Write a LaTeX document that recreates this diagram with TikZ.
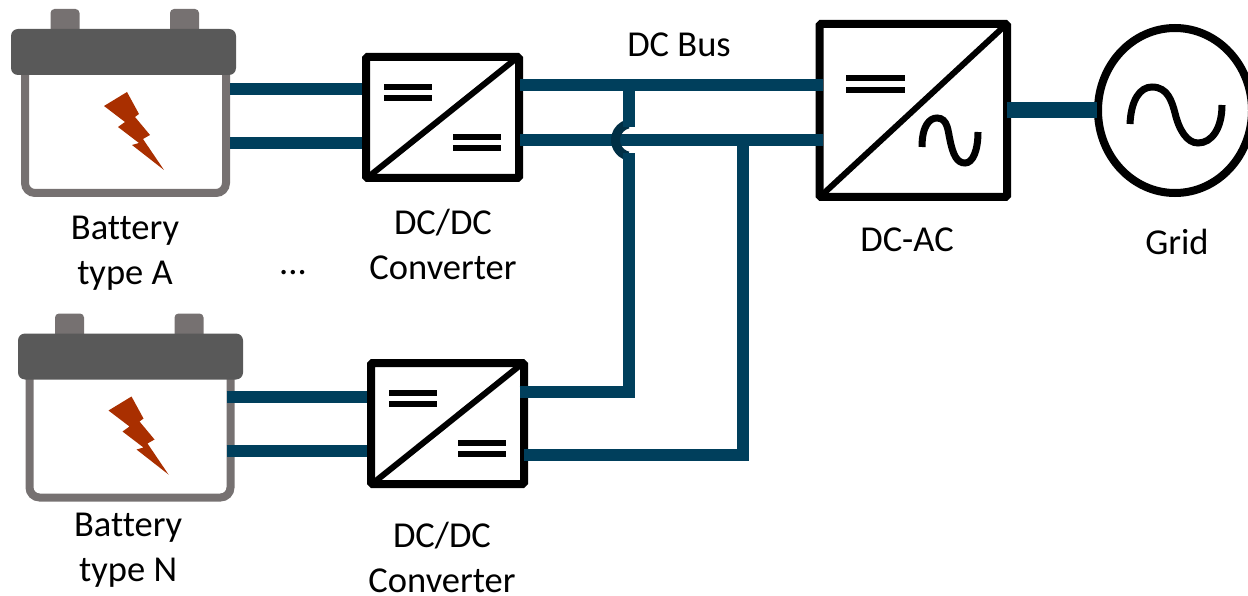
\documentclass[tikz,border=0pt]{standalone}
\usepackage{fontspec}
\setmainfont[Ligatures=NoCommon]{Carlito}
\usepackage{xcolor}
\usepackage{tikz}
\usetikzlibrary{calc,shapes.geometric}
\definecolor{bus_wire}{HTML}{003F5C}
\definecolor{bus_jump}{HTML}{002F45}
\definecolor{bat_case}{HTML}{767171}
\definecolor{bat_lid}{HTML}{595959}
\definecolor{bat_bolt}{HTML}{A92F00}

\begin{document}
\begin{tikzpicture}[x={(1pt,0)}, y={(0,-1pt)}]
            \tikzstyle{wire} = [draw = bus_wire, line width = 12pt];
            \tikzstyle{conv} = [draw, line width = 8pt, rounded corners = 1.5pt, inner sep = 0, minimum width = 153pt, minimum height = 121pt];
            \tikzstyle{symb} = [line width = 6pt];
            \tikzstyle{case} = [draw = bat_case, line width = 8pt, rounded corners = 10pt, inner sep = 0, minimum width = 201pt, minimum height = 133pt];
            \tikzstyle{lid} = [fill = bat_lid, rounded corners = 7pt, inner sep = 0, minimum width = 225pt, minimum height = 46pt];
            \tikzstyle{post} = [fill = bat_case, rounded corners = 4pt, inner sep = 0, minimum width = 29pt, minimum height = 26pt];
            \tikzstyle{label} = [align = center, inner sep = 0, font = \fontsize{36.5}{45}\selectfont];
            \useasboundingbox (0,0) rectangle (1248,596);
            % batteries
            \foreach \n/\dx/\dy/\lx/\ty/\t in {A/0/0/0/253/{Battery\\type A}, N/4.5/304.5/7/550.5/{Battery\\type N}}
            {
            \node[post] (post\n a) at (65+\dx,22+\dy) {};
            \node[post] (post\n b) at (184.5+\dx,22+\dy) {};
            \node[case] (bat\n) at (125.5+\dx,126.5+\dy) {};
            \node[lid] (lid\n) at (123.5+\lx,52+\dy) {};
            \fill[bat_bolt] (104+\dx,106+\dy) -- (127+\dx,92+\dy) -- (139+\dx,114+\dy) -- (135+\dx,117+\dy) -- (150+\dx,135+\dy) -- (143+\dx,139+\dy) -- (164+\dx,170+\dy) -- (132+\dx,145+\dy) -- (139+\dx,143+\dy) -- (118+\dx,127+\dy) -- (125+\dx,122+\dy) -- cycle;
            \node[label] (label\n) at (125+\dx*.7,\ty) {\t};
            }
            % converters
            \foreach \m/\x/\y/\lx/\ly in {1/442.5/117.5/443/244, 2/447.5/423.5/442/557.5}
            {
            \node[conv] (conv\m) at (\x,\y) {};
            \draw[line width = 6pt] ($(conv\m.south west)!.02!(conv\m.north east)$) -- ($(conv\m.south west)!.98!(conv\m.north east)$);
            \draw[symb] (\x-58.5,\y-30.5) -- (\x-10.5,\y-30.5) (\x-58.5,\y-19.8) -- (\x-10.5,\y-19.8);
            \draw[symb] (\x+10.5,\y+19.8) -- (\x+58.5,\y+19.8) (\x+10.5,\y+30.2) -- (\x+58.5,\y+30.2);
            \node[label] (labelconv\m) at (\lx,\ly) {DC/DC\\Converter};
            }
            \node[conv, minimum width = 187.5pt, minimum height = 173pt] (main) at (913.25,110.5) {};
            \draw[line width = 6pt] ($(main.south west)!.02!(main.north east)$) -- ($(main.south west)!.98!(main.north east)$);
            \draw[symb] (846,78) -- (905,78) (846,90) -- (905,90);
            \draw[line width = 7pt] (922,147) .. controls (922,125) and (930,118) .. (937,118) .. controls (948,118) and (948,132) .. (950,140) .. controls (953,155) and (957,163) .. (965,163) .. controls (973,163) and (978,150) .. (978,132);
            \node[ellipse, draw, line width = 8pt, inner sep = 0, minimum width = 154pt, minimum height = 165pt] (grid) at (1175,110.5) {};
            \draw[line width = 7pt] (1130,124) .. controls (1131,100) and (1140,87) .. (1152,87) .. controls (1168,87) and (1172,102) .. (1175,113) .. controls (1179,130) and (1187,143) .. (1198,143) .. controls (1212,143) and (1222,128) .. (1222,105);
            % ports
            \coordinate (conv1ip) at ($(conv1.west)+(0,-28.5)$);
            \coordinate (conv1in) at ($(conv1.west)+(0,25.5)$);
            \coordinate (conv2ip) at ($(conv2.west)+(0,-26.8)$);
            \coordinate (conv2in) at ($(conv2.west)+(0,27.5)$);
            \coordinate (conv1op) at ($(conv1.east)+(-3,-32.5)$);
            \coordinate (conv1on) at ($(conv1.east)+(-3,22.5)$);
            \coordinate (conv2op) at ($(conv2.east)+(-8.5,-31.8)$);
            \coordinate (conv2on) at ($(conv2.east)+(-4,31.5)$);
            \coordinate (busjoin) at (629,85);
            \coordinate (jumpup) at (629,127);
            \coordinate (jumpdown) at (629,153);
            \coordinate (jumpmid) at (632,140);
            \coordinate (bustap) at (742.7,140);
            % wires
            \draw[wire] (batA.east |- conv1ip) -- (conv1ip);
            \draw[wire] (batA.east |- conv1in) -- (conv1in);
            \draw[wire] ([xshift=-8pt]batN.east |- conv2ip) -- (conv2ip);
            \draw[wire] ([xshift=-8pt]batN.east |- conv2in) -- (conv2in);
            \draw[wire] (conv1op) -- ([xshift=7pt]main.west |- conv1op);
            \draw[wire] (conv1on) -- ([xshift=7pt]main.west |- conv1on);
            \draw[draw = bus_jump, line width = 9pt] (jumpmid) ++(105:16.5) arc[start angle=105, end angle=255, radius=16.5];
            \draw[wire] (busjoin) -- (jumpup);
            \draw[wire] (conv2op) -| (jumpdown);
            \draw[wire] (conv2on) -| (bustap);
            \draw[wire, line width = 16pt] ([xshift=-4pt]main.east) -- ([xshift=3pt]grid.west);
            % texts
            \node[label] (labelbus) at (679,45) {DC Bus};
            \node[label] (labelac) at (907,240) {DC-AC};
            \node[label] (labelgrid) at (1177,242) {Grid};
            \node[label] (labeldots) at (293,273) {...};
        \end{tikzpicture}
\end{document}
